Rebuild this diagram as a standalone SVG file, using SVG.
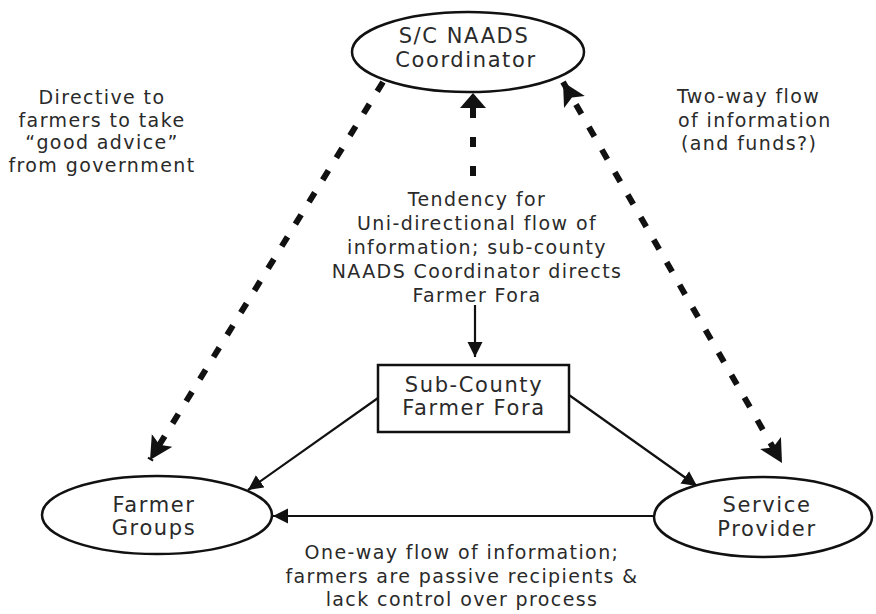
<svg xmlns="http://www.w3.org/2000/svg" width="876" height="614" viewBox="0 0 876 614">
<style>
  .node { fill: #fff; stroke: #111; stroke-width: 2.5; }
  .nt { font-family: "DejaVu Sans", "Liberation Sans", sans-serif; font-size: 21px; letter-spacing: 1.6px; fill: #2a2a2a; text-anchor: middle; }
  .lbl { font-family: "DejaVu Sans", "Liberation Sans", sans-serif; font-size: 19px; letter-spacing: 1.4px; fill: #2a2a2a; }
  .solid { stroke: #111; stroke-width: 2.2; fill: none; }
  .dash { stroke: #111; stroke-width: 6; fill: none; }
</style>
<defs>
  <marker id="ah" markerUnits="userSpaceOnUse" markerWidth="16" markerHeight="16" refX="15" refY="7.5" orient="auto">
    <path d="M0,0 L15,7.5 L0,15 z" fill="#111"/>
  </marker>
  <marker id="dh" markerUnits="userSpaceOnUse" markerWidth="26" markerHeight="26" refX="23" refY="12" orient="auto-start-reverse">
    <path d="M0,0 L23,12 L0,24 L5,12 z" fill="#111"/>
  </marker>
  <marker id="vh" markerUnits="userSpaceOnUse" markerWidth="16" markerHeight="28" refX="15" refY="13" orient="auto">
    <path d="M0,0 L15,13 L0,26 z" fill="#111"/>
  </marker>
</defs>

<g id="connectors">
  <line class="dash" x1="383" y1="82" x2="150" y2="460" stroke-dasharray="11 15" marker-end="url(#dh)"/>
  <line class="dash" x1="563" y1="82" x2="782" y2="463" stroke-dasharray="11 15" marker-start="url(#dh)" marker-end="url(#dh)"/>
  <line class="dash" x1="473" y1="176" x2="473" y2="93" stroke-dasharray="10 19" marker-end="url(#vh)"/>
  <line class="solid" x1="475" y1="305" x2="475" y2="357" marker-end="url(#ah)"/>
  <line class="solid" x1="378" y1="398" x2="248" y2="490" marker-end="url(#ah)"/>
  <line class="solid" x1="569" y1="395" x2="697" y2="486" marker-end="url(#ah)"/>
  <line class="solid" x1="654" y1="516" x2="273" y2="516" marker-end="url(#ah)"/>
</g>

<g id="coordinator">
  <ellipse class="node" cx="468" cy="52" rx="116" ry="40"/>
  <text class="nt" x="464" y="43">S/C NAADS</text>
  <text class="nt" x="466" y="67">Coordinator</text>
</g>

<g id="farmer-fora">
  <rect class="node" x="378" y="365" width="191" height="67"/>
  <text class="nt" x="474" y="392">Sub-County</text>
  <text class="nt" x="474" y="415">Farmer Fora</text>
</g>

<g id="farmer-groups">
  <ellipse class="node" cx="157" cy="515" rx="115" ry="39"/>
  <text class="nt" x="154" y="512">Farmer</text>
  <text class="nt" x="154" y="535">Groups</text>
</g>

<g id="service-provider">
  <ellipse class="node" cx="763" cy="517" rx="109" ry="40"/>
  <text class="nt" x="767" y="512">Service</text>
  <text class="nt" x="767" y="536">Provider</text>
</g>

<g id="label-directive">
  <text class="lbl" text-anchor="middle" x="102" y="104">Directive to</text>
  <text class="lbl" text-anchor="middle" x="102" y="127">farmers to take</text>
  <text class="lbl" text-anchor="middle" x="102" y="149">“good advice”</text>
  <text class="lbl" text-anchor="middle" x="102" y="172">from government</text>
</g>

<g id="label-twoway">
  <text class="lbl" x="677" y="103">Two-way flow</text>
  <text class="lbl" x="678" y="127">of information</text>
  <text class="lbl" x="681" y="150">(and funds?)</text>
</g>

<g id="label-tendency">
  <text class="lbl" text-anchor="middle" x="477" y="206">Tendency for</text>
  <text class="lbl" text-anchor="middle" x="477" y="230">Uni-directional flow of</text>
  <text class="lbl" text-anchor="middle" x="477" y="254">information; sub-county</text>
  <text class="lbl" text-anchor="middle" x="477" y="278">NAADS Coordinator directs</text>
  <text class="lbl" text-anchor="middle" x="477" y="302">Farmer Fora</text>
</g>

<g id="label-oneway">
  <text class="lbl" text-anchor="middle" x="462" y="559">One-way flow of information;</text>
  <text class="lbl" text-anchor="middle" x="462" y="583">farmers are passive recipients &amp;</text>
  <text class="lbl" text-anchor="middle" x="462" y="606">lack control over process</text>
</g>
</svg>
